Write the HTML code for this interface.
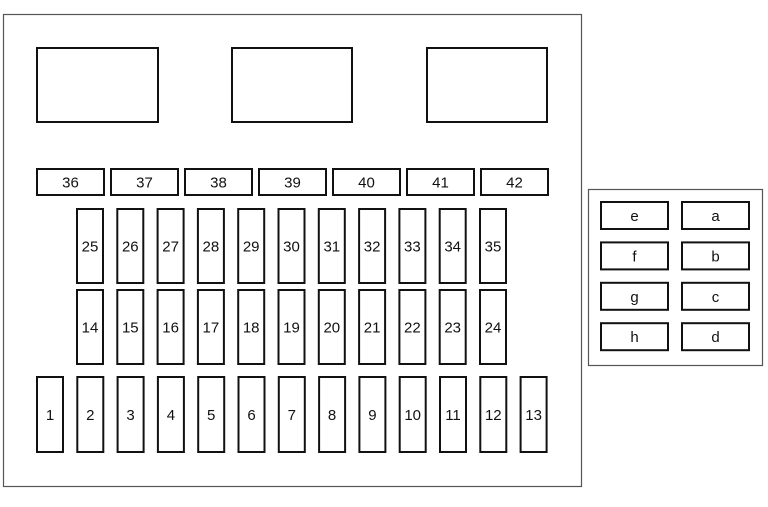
<!DOCTYPE html>
<html><head><meta charset="utf-8"><style>
html,body{margin:0;padding:0;background:#fff;width:768px;height:507px;overflow:hidden}
svg text{font-family:"Liberation Sans",sans-serif;font-size:15px;fill:#111;text-anchor:middle;dominant-baseline:central}
</style></head><body>
<svg width="768" height="507" viewBox="0 0 768 507" xmlns="http://www.w3.org/2000/svg">
<g fill="none" stroke="#555" stroke-width="1.2">
<rect x="3.5" y="14.5" width="578" height="472"/>
<rect x="588.5" y="189.5" width="174" height="176"/>
</g>
<g fill="#fff" stroke="#111" stroke-width="2">
<rect x="37" y="48" width="121" height="74"/>
<rect x="232" y="48" width="120" height="74"/>
<rect x="427" y="48" width="120" height="74"/>
</g>
<g id="boxes" fill="#fff" stroke="#111" stroke-width="2"></g>
<g id="labels"></g>
</svg>
<script>
const b=document.getElementById('boxes'),l=document.getElementById('labels');
const ns='http://www.w3.org/2000/svg';
function box(x,y,w,h,t){const r=document.createElementNS(ns,'rect');r.setAttribute('x',x);r.setAttribute('y',y);r.setAttribute('width',w);r.setAttribute('height',h);b.appendChild(r);
const tx=document.createElementNS(ns,'text');tx.setAttribute('x',x+w/2);tx.setAttribute('y',y+h/2+1);tx.textContent=t;l.appendChild(tx);}
for(let i=0;i<7;i++)box(37+74*i,169,67,26,String(36+i));
for(let i=0;i<11;i++){box(77+40.3*i,209,26,74,String(25+i));box(77+40.3*i,290,26,74,String(14+i));}
for(let i=0;i<13;i++)box(37+40.3*i,377,26,75,String(1+i));
const L=['e','f','g','h'],R=['a','b','c','d'];
for(let i=0;i<4;i++){box(601,202+40.4*i,67,27,L[i]);box(682,202+40.4*i,67,27,R[i]);}
</script>
</body></html>
